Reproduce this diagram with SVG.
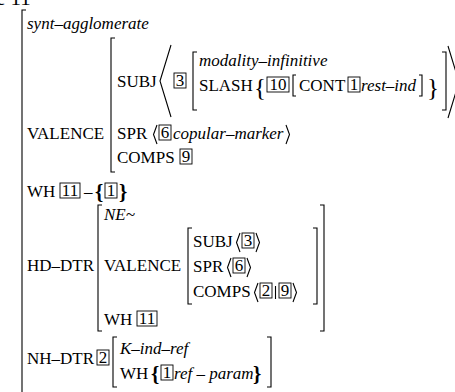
<svg xmlns="http://www.w3.org/2000/svg" width="455" height="392" viewBox="0 0 455 392">
  <style>
    text { font-family: "Liberation Serif", "Times New Roman", serif; font-size: 17px; fill: #000; }
    .it { font-style: italic; }
    .br { font-weight: bold; font-size: 21px; }
    .big { font-size: 25px; }
    .cap { font-size: 21px; }
    .d { text-anchor: middle; }
    .delim { fill: none; stroke: #000; stroke-width: 1.1; }
    .box { fill: none; stroke: #000; stroke-width: 0.9; }
  </style>
  <rect width="455" height="392" fill="#fff"/>

  <!-- caption fragment at the top edge -->
  <text class="cap" x="-4" y="5">e 11</text>

  <!-- outer structure -->
  <g id="root">
    <path class="delim" d="M26,10 H22 V400"/>
    <text class="it" x="27" y="29">synt–agglomerate</text>
  </g>

  <!-- VALENCE of the mother -->
  <g id="valence">
    <text x="27" y="139">VALENCE</text>
    <path class="delim" d="M115,38 H111 V172 H115"/>

    <!-- SUBJ list -->
    <text x="117" y="87">SUBJ</text>
    <path class="delim" d="M171,45 L160,81 L171,117"/>
    <rect class="box" x="174" y="73" width="12" height="15"/>
    <text class="d" x="180" y="86">3</text>
    <path class="delim" d="M197,52 H193 V110 H197"/>
    <text class="it" x="199" y="66">modality–infinitive</text>
    <text x="199" y="91">SLASH</text>
    <text class="big" x="254" y="96">{</text>
    <rect class="box" x="267" y="77" width="22" height="15"/>
    <text class="d" x="278" y="90">10</text>
    <path class="delim" d="M296,75 H293 V96 H296"/>
    <text x="299" y="91">CONT</text>
    <rect class="box" x="348" y="77" width="12" height="15"/>
    <text class="d" x="354" y="90">1</text>
    <text class="it" x="361" y="91">rest–ind</text>
    <path class="delim" d="M419,75 H422 V96 H419"/>
    <text class="big" x="427" y="96">}</text>
    <path class="delim" d="M442,52 H446 V110 H442"/>
    <path class="delim" d="M448,46 L459,82 L448,118"/>

    <!-- SPR -->
    <text x="117" y="139">SPR</text>
    <path class="delim" d="M157,125 L153.5,134.5 L157,144"/>
    <rect class="box" x="159" y="125" width="12" height="15"/>
    <text class="d" x="165" y="138">6</text>
    <text class="it" x="173" y="139">copular–marker</text>
    <path class="delim" d="M286,125 L289.5,134.5 L286,144"/>

    <!-- COMPS -->
    <text x="117" y="163">COMPS</text>
    <rect class="box" x="180" y="149" width="12" height="15"/>
    <text class="d" x="186" y="162">9</text>
  </g>

  <!-- WH of the mother -->
  <g id="wh">
    <text x="27" y="197">WH</text>
    <rect class="box" x="60" y="183" width="20" height="15"/>
    <text class="d" x="70" y="196">11</text>
    <text x="84" y="197">–</text>
    <text class="br" x="95" y="199">{</text>
    <rect class="box" x="105" y="183" width="12" height="15"/>
    <text class="d" x="111" y="196">1</text>
    <text class="br" x="119" y="199">}</text>
  </g>

  <!-- head daughter -->
  <g id="hd-dtr">
    <text x="27" y="271">HD–DTR</text>
    <path class="delim" d="M102,205 H98 V331 H102"/>
    <text class="it" x="104" y="220">NE~</text>
    <text x="104" y="271">VALENCE</text>
    <path class="delim" d="M192,228 H188 V304 H192"/>

    <text x="193" y="247">SUBJ</text>
    <path class="delim" d="M240,233 L236.5,242.5 L240,252"/>
    <rect class="box" x="242" y="233" width="12" height="15"/>
    <text class="d" x="248" y="246">3</text>
    <path class="delim" d="M256,233 L259.5,242.5 L256,252"/>

    <text x="193" y="272">SPR</text>
    <path class="delim" d="M231,258 L227.5,267.5 L231,277"/>
    <rect class="box" x="233" y="258" width="12" height="15"/>
    <text class="d" x="239" y="271">6</text>
    <path class="delim" d="M247,258 L250.5,267.5 L247,277"/>

    <text x="193" y="297">COMPS</text>
    <path class="delim" d="M258,283 L254.5,292.5 L258,302"/>
    <rect class="box" x="260" y="283" width="12" height="15"/>
    <text class="d" x="266" y="296">2</text>
    <path class="delim" d="M275.5,286 V299"/>
    <rect class="box" x="279" y="283" width="12" height="15"/>
    <text class="d" x="285" y="296">9</text>
    <path class="delim" d="M293,283 L296.5,292.5 L293,302"/>

    <path class="delim" d="M313,228 H317 V304 H313"/>
    <text x="104" y="325">WH</text>
    <rect class="box" x="137" y="311" width="20" height="15"/>
    <text class="d" x="147" y="324">11</text>
    <path class="delim" d="M320,205 H324 V331 H320"/>
  </g>

  <!-- non-head daughter -->
  <g id="nh-dtr">
    <text x="27" y="364">NH–DTR</text>
    <rect class="box" x="97" y="350" width="12" height="15"/>
    <text class="d" x="103" y="363">2</text>
    <path class="delim" d="M117,337 H113 V387 H117"/>
    <text class="it" x="120" y="354">K–ind–ref</text>
    <text x="120" y="379">WH</text>
    <text class="br" x="151" y="381">{</text>
    <rect class="box" x="161" y="365" width="12" height="15"/>
    <text class="d" x="167" y="378">1</text>
    <text class="it" x="174" y="379">ref – param</text>
    <text class="br" x="253" y="381">}</text>
    <path class="delim" d="M267,337 H271 V387 H267"/>
  </g>
</svg>
